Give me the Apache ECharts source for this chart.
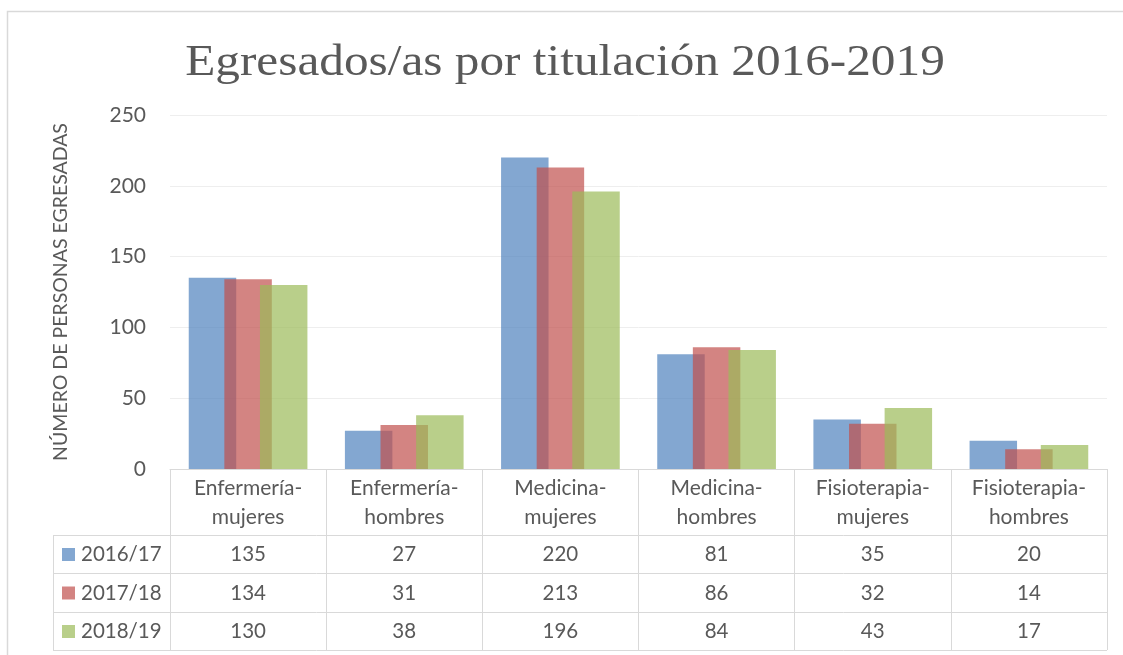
<!DOCTYPE html>
<html>
<head>
<meta charset="utf-8">
<script src="https://cdn.jsdelivr.net/npm/echarts@6/dist/echarts.min.js"></script>
<style>
  html, body { margin: 0; padding: 0; background: #fff; }
  #chart { width: 1123px; height: 655px; }
</style>
</head>
<body>
<div id="chart"></div>
<script>
// Graduates per degree programme, three academic years
const categories = [
  'Enfermería-\nmujeres', 'Enfermería-\nhombres', 'Medicina-\nmujeres',
  'Medicina-\nhombres', 'Fisioterapia-\nmujeres', 'Fisioterapia-\nhombres'
];
const seriesNames = ['2016/17', '2017/18', '2018/19'];
const values2016 = [135, 27, 220, 81, 35, 20];
const values2017 = [134, 31, 213, 86, 32, 14];
const values2018 = [130, 38, 196, 84, 43, 17];
const yTicks = { min: 0, max: 250, interval: 50 };

const seriesValues = [values2016, values2017, values2018];
const colors = ['#4F81BD', '#C0504D', '#9BBB59'];
const barOpacity = 0.7;
const textColor = '#595959';
const lineColor = '#d9d9d9';
const font = 'Lato, "Open Sans", sans-serif';

const chart = echarts.init(document.getElementById('chart'), null, { renderer: 'canvas' });

const grid = { left: 170, right: 16, top: 115, bottom: 186 };
const tableBottom = 650;
const rowLines = [535, 573, 612, 650];
const tableLeft = 53;

chart.setOption({
  animation: false,
  backgroundColor: '#fff',
  grid: grid,
  xAxis: {
    type: 'category',
    data: categories,
    axisLine: { lineStyle: { color: lineColor, width: 1 } },
    axisTick: { show: true, length: tableBottom - (655 - grid.bottom), lineStyle: { color: lineColor } },
    axisLabel: { color: textColor, fontSize: 21, fontFamily: font, lineHeight: 29, margin: 5, interval: 0 }
  },
  yAxis: {
    type: 'value',
    min: yTicks.min, max: yTicks.max, interval: yTicks.interval,
    name: 'NÚMERO DE PERSONAS EGRESADAS',
    nameLocation: 'middle', nameGap: 99,
    nameTextStyle: { color: textColor, fontSize: 19.5, fontFamily: font },
    axisLine: { show: false }, axisTick: { show: false },
    axisLabel: { color: textColor, fontSize: 21, fontFamily: font, margin: 24 },
    splitLine: { lineStyle: { color: '#eeeeee', width: 1 } }
  },
  series: seriesNames.map((n, i) => ({
    name: n, type: 'bar', data: seriesValues[i],
    barGap: '-25%', barCategoryGap: '24%',
    itemStyle: { color: colors[i], opacity: barOpacity }
  }))
});

// Chart title, frame and the data table beneath the plot
const graphics = [];
graphics.push({ type: 'text', x: 565, y: 63, scaleX: 1.12, scaleY: 1,
  style: { text: 'Egresados/as por titulación 2016-2019', fill: textColor,
    font: '44px "Liberation Serif", serif', textAlign: 'center', textVerticalAlign: 'middle' } });
graphics.push({ type: 'rect', shape: { x: 7.5, y: 11.5, width: 1130, height: 700 },
  style: { fill: 'none', stroke: lineColor, lineWidth: 1.5 }, silent: true });
const rightEdge = 1123 - grid.right;
rowLines.forEach(y => {
  graphics.push({ type: 'line', shape: { x1: tableLeft, y1: y + 0.5, x2: rightEdge, y2: y + 0.5 },
    style: { stroke: lineColor, lineWidth: 1 } });
});
graphics.push({ type: 'line', shape: { x1: tableLeft + 0.5, y1: rowLines[0], x2: tableLeft + 0.5, y2: tableBottom },
  style: { stroke: lineColor, lineWidth: 1 } });
for (let r = 0; r < 3; r++) {
  const cy = (rowLines[r] + rowLines[r + 1]) / 2 + 0.5;
  graphics.push({ type: 'rect', shape: { x: 62, y: cy - 6.5, width: 13, height: 13 },
    style: { fill: colors[r], opacity: barOpacity } });
  graphics.push({ type: 'text', x: 81, y: cy,
    style: { text: seriesNames[r], fill: textColor, font: '20.5px ' + font, textAlign: 'left', textVerticalAlign: 'middle' } });
  seriesValues[r].forEach((v, c) => {
    const cx = chart.convertToPixel({ xAxisIndex: 0 }, c);
    graphics.push({ type: 'text', x: cx, y: cy,
      style: { text: String(v), fill: textColor, font: '20.5px ' + font, textAlign: 'center', textVerticalAlign: 'middle' } });
  });
}
chart.setOption({ graphic: graphics });
</script>
</body>
</html>
